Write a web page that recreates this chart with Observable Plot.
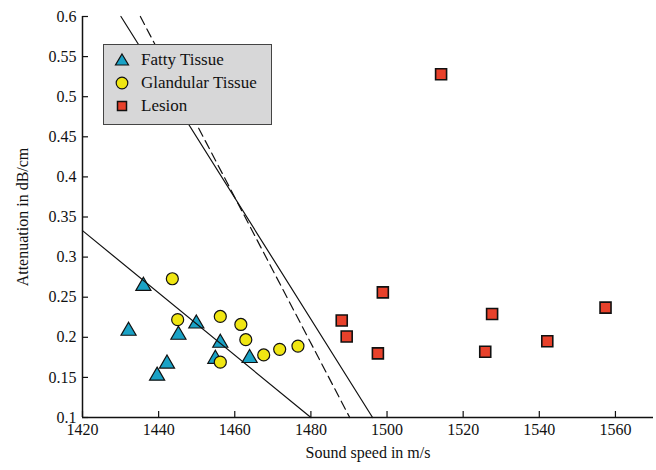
<!DOCTYPE html>
<html>
<head>
<meta charset="utf-8">
<script src="https://cdn.jsdelivr.net/npm/d3@7"></script>
<script src="https://cdn.jsdelivr.net/npm/@observablehq/plot@0.6"></script>
<style>
  html, body { margin: 0; padding: 0; background: #fff; }
  #wrap { position: relative; width: 656px; height: 470px; font-family: "Liberation Serif", "DejaVu Serif", serif; }
  #wrap svg text { font-size: 16px !important; fill: #111; font-family: "Liberation Serif", "DejaVu Serif", serif !important; }
  #legend { position: absolute; left: 103px; top: 44px; width: 169px; height: 81px; background: #d7d7d8; border: 1px solid #444; box-sizing: border-box; font-size: 17px; color: #111; font-family: "Liberation Serif", "DejaVu Serif", serif; }
</style>
</head>
<body>
<div id="wrap"></div>
<script>
// Fatty tissue
const fattySpeed = [1436.0, 1432.1, 1439.6, 1442.2, 1445.2, 1449.9, 1456.2, 1454.9, 1463.9];
const fattyAtten = [0.264, 0.208, 0.152, 0.167, 0.203, 0.217, 0.193, 0.173, 0.174];
// Glandular tissue
const glandSpeed = [1443.6, 1445.0, 1456.2, 1461.6, 1462.9, 1456.2, 1467.6, 1471.8, 1476.6];
const glandAtten = [0.273, 0.222, 0.226, 0.216, 0.197, 0.169, 0.178, 0.185, 0.189];
// Lesion
const lesionSpeed = [1498.9, 1488.1, 1489.4, 1497.6, 1527.6, 1525.8, 1542.1, 1557.4, 1514.2];
const lesionAtten = [0.256, 0.221, 0.201, 0.180, 0.229, 0.182, 0.195, 0.237, 0.528];
// Decision lines (endpoints)
const line1Speed = [1420, 1480];
const line1Atten = [0.333, 0.1];
const line2Speed = [1430.1, 1496.2];
const line2Atten = [0.6, 0.1];
const line3Speed = [1435.2, 1490.2];
const line3Atten = [0.6, 0.1];
// Ticks
const xTicks = [1420, 1440, 1460, 1480, 1500, 1520, 1540, 1560];
const yTicks = [0.1, 0.15, 0.2, 0.25, 0.3, 0.35, 0.4, 0.45, 0.5, 0.55, 0.6];
const seriesNames = ["Fatty Tissue", "Glandular Tissue", "Lesion"];
const seriesColors = ["#1aa2c6", "#f0e612", "#e8412b"];

const zip = (xs, ys) => xs.map((x, i) => ({x, y: ys[i]}));
const fatty = zip(fattySpeed, fattyAtten);
const gland = zip(glandSpeed, glandAtten);
const lesion = zip(lesionSpeed, lesionAtten);

const fmtY = d => String(+d.toFixed(2));
const fmtX = d => String(d);

const plot = Plot.plot({
  width: 656,
  height: 470,
  marginLeft: 82,
  marginRight: 3,
  marginTop: 16,
  marginBottom: 53,
  style: {fontFamily: "'Liberation Serif', serif", fontSize: "16px", color: "#111", background: "white"},
  x: {domain: [1420, 1570]},
  y: {domain: [0.1, 0.6]},
  marks: [
    Plot.axisX(xTicks, {tickSize: -6, tickPadding: 12, strokeWidth: 1.2, tickFormat: fmtX, label: "Sound speed in m/s", labelAnchor: "center", labelOffset: 40, labelArrow: "none"}),
    Plot.axisY(yTicks, {tickSize: -6, tickPadding: 12, strokeWidth: 1.2, tickFormat: fmtY, label: "Attenuation in dB/cm", labelAnchor: "center", labelOffset: 66, labelArrow: "none"}),
    Plot.ruleX([1420], {stroke: "#111", strokeWidth: 1.5}),
    Plot.ruleY([0.1], {stroke: "#111", strokeWidth: 1.5}),
    Plot.dot(fatty, {x: "x", y: "y", symbol: "triangle", r: 5.6, fill: seriesColors[0], stroke: "#111", strokeWidth: 1.2}),
    Plot.dot(gland, {x: "x", y: "y", symbol: "circle", r: 6, fill: seriesColors[1], stroke: "#111", strokeWidth: 1.2}),
    Plot.dot(lesion, {x: "x", y: "y", symbol: "square", r: 6.2, fill: seriesColors[2], stroke: "#111", strokeWidth: 1.6}),
    Plot.line(zip(line1Speed, line1Atten), {x: "x", y: "y", stroke: "#111", strokeWidth: 1.2}),
    Plot.line(zip(line2Speed, line2Atten), {x: "x", y: "y", stroke: "#111", strokeWidth: 1.2}),
    Plot.line(zip(line3Speed, line3Atten), {x: "x", y: "y", stroke: "#111", strokeWidth: 1.2, strokeDasharray: "9,5"})
  ]
});

const wrap = document.getElementById("wrap");
wrap.appendChild(plot);

// Legend overlay
const legend = document.createElement("div");
legend.id = "legend";
const symbols = [
  `<svg width="20" height="20" viewBox="-10 -10 20 20"><path d="M0,-6L6.5,5L-6.5,5Z" fill="${seriesColors[0]}" stroke="#111" stroke-width="1.2"/></svg>`,
  `<svg width="20" height="20" viewBox="-10 -10 20 20"><circle r="5.8" fill="${seriesColors[1]}" stroke="#111" stroke-width="1.2"/></svg>`,
  `<svg width="20" height="20" viewBox="-10 -10 20 20"><rect x="-4.5" y="-4.5" width="9" height="9" fill="${seriesColors[2]}" stroke="#111" stroke-width="1.5"/></svg>`
];
seriesNames.forEach((name, i) => {
  const top = 5 + i * 23;
  const item = document.createElement("div");
  item.style.position = "absolute";
  item.style.left = "0px";
  item.style.top = top + "px";
  item.style.width = "100%";
  item.style.height = "20px";
  item.innerHTML = symbols[i].replace("<svg", '<svg style="position:absolute;left:8px;top:0"') +
    `<span style="position:absolute;left:37px;top:0;line-height:20px;white-space:nowrap">${name}</span>`;
  legend.appendChild(item);
});
wrap.appendChild(legend);
</script>
</body>
</html>
